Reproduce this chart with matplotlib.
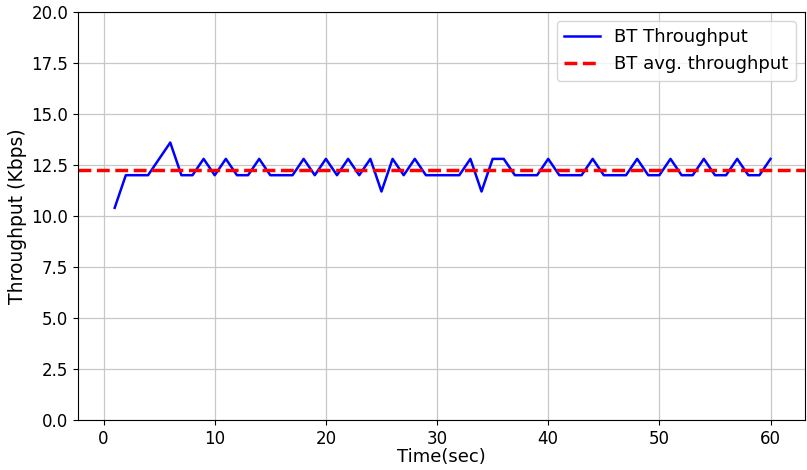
import numpy as np
import matplotlib
matplotlib.use("Agg")
import matplotlib.pyplot as plt

time_sec = list(range(1, 61))
throughput_kbps = [
    10.4, 12.0, 12.0, 12.0, 12.8, 13.6, 12.0, 12.0, 12.8, 12.0,
    12.8, 12.0, 12.0, 12.8, 12.0, 12.0, 12.0, 12.8, 12.0, 12.8,
    12.0, 12.8, 12.0, 12.8, 11.2, 12.8, 12.0, 12.8, 12.0, 12.0,
    12.0, 12.0, 12.8, 11.2, 12.8, 12.8, 12.0, 12.0, 12.0, 12.8,
    12.0, 12.0, 12.0, 12.8, 12.0, 12.0, 12.0, 12.8, 12.0, 12.0,
    12.8, 12.0, 12.0, 12.8, 12.0, 12.0, 12.8, 12.0, 12.0, 12.8,
]
avg_throughput = float(np.mean(throughput_kbps))

fig = plt.figure(figsize=(8.07, 4.70), dpi=100)
ax = fig.add_axes([78 / 807, 1 - 420 / 470, (805 - 78) / 807, (420 - 12) / 470])

ax.plot(time_sec, throughput_kbps, color="blue", linewidth=1.8, label="BT Throughput")
ax.axhline(avg_throughput, color="red", linestyle="--", linewidth=2.5, label="BT avg. throughput")

ax.set_xlim(-2.3, 63.1)
ax.set_ylim(0, 20)
ax.set_yticks(np.arange(0, 20.1, 2.5))
ax.set_xticks(np.arange(0, 61, 10))
ax.grid(True, color="#c8c8c8", linewidth=0.9)
ax.tick_params(labelsize=12)
ax.set_xlabel("Time(sec)", fontsize=13, labelpad=0)
ax.set_ylabel("Throughput (Kbps)", fontsize=13.5, labelpad=3)
ax.legend(loc="upper right", fontsize=13)

fig.savefig("out.png", dpi=100)
